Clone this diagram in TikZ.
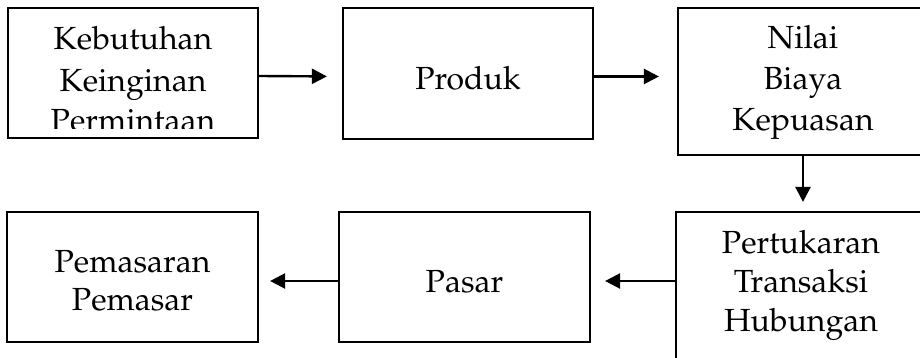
\documentclass[tikz,border=0pt]{standalone}
\usepackage[T1]{fontenc}
\usepackage{mathpazo}
\usetikzlibrary{arrows.meta}
\begin{document}
\begin{tikzpicture}[x=0.5pt,y=-0.5pt,
  box/.style={draw=black, line width=1.1pt, rectangle, inner sep=0pt},
  txt/.style={anchor=base, inner sep=0pt, font=\fontsize{16}{21}\selectfont},
  arr/.style={line width=1.2pt, -{Triangle[length=7.5pt,width=7.5pt]}}]
\useasboundingbox (0,0) rectangle (920,358);
\clip (0,0) rectangle (920,358);
% boxes
\node[box, minimum width=125pt, minimum height=65pt] (b1) at (133,73) {};
\node[box, minimum width=125pt, minimum height=65.5pt] (b2) at (468,73.5) {};
\node[box, minimum width=125pt, minimum height=73.5pt] (b3) at (803,81.5) {};
\node[box, minimum width=125pt, minimum height=80pt] (b4) at (801,292) {};
\node[box, minimum width=125.5pt, minimum height=65pt] (b5) at (464.5,277) {};
\node[box, minimum width=125.5pt, minimum height=65pt] (b6) at (132.5,277) {};
% texts
\begin{scope}
\clip (9,9) rectangle (257,128);
\node[txt] (t1a) at (133,50) {Kebutuhan};
\node[txt] (t1b) at (133,91) {Keinginan};
\node[txt] (t1c) at (133,132) {Permintaan};
\end{scope}
\node[txt] (t2) at (468,90) {Produk};
\node[txt] (t3a) at (803,49) {Nilai};
\node[txt] (t3b) at (803,90) {Biaya};
\node[txt] (t3c) at (803,130) {Kepuasan};
\node[txt] (t4a) at (801,253) {Pertukaran};
\node[txt] (t4b) at (801,292) {Transaksi};
\node[txt] (t4c) at (801,331) {Hubungan};
\node[txt] (t5) at (464.5,292) {Pasar};
\node[txt] (t6a) at (132.5,272) {Pemasaran};
\node[txt] (t6b) at (132.5,310) {Pemasar};
% arrows
\draw[arr, shorten >=7.5pt] ([yshift=-1.5pt]b1.east) -- ([yshift=-1.5pt]b2.west);
\draw[arr, shorten >=9pt] ([yshift=-1.5pt]b2.east) -- ([yshift=-1.5pt]b3.west |- b2.east);
\draw[arr, shorten >=4.5pt] (b3.south) -- (b3.south |- b4.north);
\draw[arr, shorten >=7pt] (b4.west |- 0,281) -- (b5.east |- 0,281);
\draw[arr, shorten >=5.5pt] (b5.west |- 0,281) -- (b6.east |- 0,281);
\end{tikzpicture}
\end{document}
